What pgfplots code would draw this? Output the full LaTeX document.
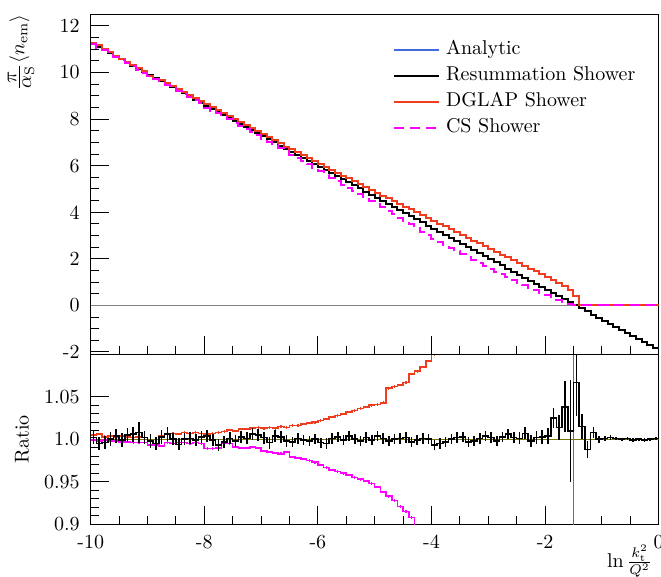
\documentclass[border=0pt]{standalone}
\usepackage{pgfplots}
\usepackage{pgfplotstable}
\pgfplotsset{compat=1.18}

\definecolor{anablue}{RGB}{65,105,225}
\definecolor{dgred}{RGB}{240,60,30}
\definecolor{csmag}{RGB}{255,0,255}
\definecolor{oneline}{RGB}{120,120,0}

% bins of width 0.1 from -10 to 0, xl = left edge, last row closes the histogram
% ana: analytic (= resummation shower at this scale), dg: DGLAP, cs: CS
% rres/eres: resummation/analytic with error, rdg, rcs: ratios to analytic
\pgfplotstableread{
xl ana dg cs rres eres rdg rcs
-10.0 11.22 11.28 11.21 1.002 0.008 1.005 0.999
-9.9 11.09 11.16 11.07 0.995 0.008 1.006 0.998
-9.8 10.96 10.99 10.95 0.996 0.008 1.003 0.999
-9.7 10.82 10.86 10.80 1.000 0.008 1.004 0.998
-9.6 10.69 10.72 10.67 1.004 0.008 1.003 0.998
-9.5 10.56 10.60 10.53 0.999 0.008 1.004 0.997
-9.4 10.43 10.46 10.40 1.005 0.008 1.003 0.997
-9.3 10.30 10.32 10.26 1.006 0.009 1.002 0.996
-9.2 10.16 10.19 10.12 1.008 0.012 1.003 0.996
-9.1 10.03 10.05 9.99 1.002 0.008 1.002 0.996
-9.0 9.90 9.84 9.83 0.998 0.008 0.994 0.993
-8.9 9.77 9.70 9.70 0.995 0.008 0.993 0.993
-8.8 9.64 9.68 9.56 1.003 0.008 1.004 0.992
-8.7 9.50 9.56 9.46 1.006 0.008 1.006 0.996
-8.6 9.37 9.44 9.32 1.000 0.007 1.007 0.995
-8.5 9.24 9.30 9.20 0.994 0.007 1.006 0.996
-8.4 9.11 9.18 9.07 1.000 0.007 1.008 0.996
-8.3 8.98 9.04 8.94 1.001 0.007 1.007 0.995
-8.2 8.84 8.91 8.80 0.999 0.007 1.008 0.996
-8.1 8.71 8.77 8.67 1.003 0.007 1.007 0.995
-8.0 8.58 8.63 8.49 1.004 0.007 1.006 0.989
-7.9 8.45 8.51 8.36 0.999 0.007 1.007 0.989
-7.8 8.32 8.39 8.24 0.993 0.007 1.008 0.990
-7.7 8.18 8.25 8.14 0.997 0.007 1.009 0.995
-7.6 8.05 8.14 8.01 1.001 0.007 1.011 0.995
-7.5 7.92 8.00 7.85 0.998 0.007 1.010 0.991
-7.4 7.79 7.88 7.71 1.003 0.007 1.012 0.990
-7.3 7.66 7.75 7.58 1.001 0.007 1.012 0.990
-7.2 7.52 7.62 7.45 1.006 0.007 1.013 0.991
-7.1 7.39 7.49 7.32 1.005 0.007 1.014 0.990
-7.0 7.26 7.35 7.16 1.002 0.007 1.013 0.986
-6.9 7.13 7.23 7.02 0.996 0.007 1.014 0.985
-6.8 7.00 7.09 6.89 1.004 0.007 1.013 0.984
-6.7 6.86 6.96 6.74 1.003 0.007 1.015 0.983
-6.6 6.73 6.82 6.63 0.998 0.007 1.014 0.985
-6.5 6.60 6.71 6.46 0.997 0.006 1.016 0.979
-6.4 6.47 6.57 6.33 1.001 0.006 1.016 0.978
-6.3 6.34 6.45 6.19 0.999 0.006 1.018 0.977
-6.2 6.20 6.32 6.05 0.998 0.006 1.019 0.975
-6.1 6.07 6.19 5.91 1.000 0.006 1.020 0.973
-6.0 5.94 6.07 5.76 0.996 0.006 1.022 0.970
-5.9 5.81 5.95 5.62 0.995 0.006 1.024 0.967
-5.8 5.68 5.83 5.48 1.001 0.006 1.026 0.964
-5.7 5.54 5.70 5.33 1.003 0.006 1.028 0.962
-5.6 5.41 5.57 5.19 0.999 0.006 1.030 0.960
-5.5 5.28 5.45 5.06 1.004 0.006 1.032 0.958
-5.4 5.15 5.33 4.92 1.000 0.006 1.034 0.955
-5.3 5.02 5.20 4.78 0.998 0.006 1.036 0.953
-5.2 4.88 5.07 4.64 1.002 0.006 1.038 0.951
-5.1 4.75 4.94 4.50 0.999 0.006 1.040 0.948
-5.0 4.62 4.81 4.36 1.004 0.006 1.041 0.944
-4.9 4.49 4.68 4.21 1.001 0.006 1.043 0.938
-4.8 4.36 4.62 4.07 0.998 0.006 1.060 0.933
-4.7 4.22 4.48 3.92 1.000 0.006 1.062 0.928
-4.6 4.09 4.35 3.77 1.001 0.006 1.064 0.921
-4.5 3.96 4.23 3.62 1.002 0.006 1.067 0.915
-4.4 3.83 4.12 3.48 0.997 0.006 1.077 0.908
-4.3 3.70 4.00 3.32 0.999 0.006 1.080 0.898
-4.2 3.56 3.86 3.16 1.001 0.006 1.085 0.889
-4.1 3.43 3.75 3.02 1.000 0.006 1.092 0.879
-4.0 3.30 3.63 2.86 0.993 0.006 1.100 0.868
-3.9 3.17 3.51 2.73 0.995 0.006 1.107 0.860
-3.8 3.04 3.39 2.59 0.997 0.006 1.115 0.852
-3.7 2.90 3.27 2.45 1.000 0.006 1.128 0.845
-3.6 2.77 3.15 2.32 1.002 0.006 1.137 0.838
-3.5 2.64 3.03 2.19 1.003 0.006 1.148 0.830
-3.4 2.51 2.90 2.07 0.997 0.006 1.155 0.823
-3.3 2.38 2.78 1.94 0.998 0.006 1.168 0.815
-3.2 2.24 2.66 1.81 1.001 0.006 1.190 0.808
-3.1 2.11 2.54 1.69 1.004 0.006 1.200 0.800
-3.0 1.98 2.42 1.57 1.002 0.006 1.220 0.795
-2.9 1.85 2.30 1.45 0.998 0.006 1.240 0.785
-2.8 1.72 2.18 1.33 1.003 0.006 1.270 0.775
-2.7 1.58 2.06 1.21 1.006 0.006 1.300 0.765
-2.6 1.45 1.94 1.09 1.002 0.006 1.340 0.755
-2.5 1.32 1.82 0.98 1.001 0.007 1.380 0.745
-2.4 1.19 1.70 0.87 1.007 0.007 1.430 0.735
-2.3 1.06 1.58 0.76 0.998 0.007 1.490 0.720
-2.2 0.92 1.46 0.64 1.002 0.008 1.590 0.700
-2.1 0.79 1.34 0.54 1.003 0.008 1.700 0.680
-2.0 0.66 1.22 0.44 1.004 0.009 1.850 0.660
-1.9 0.53 1.10 0.34 1.025 0.012 2.080 0.640
-1.8 0.40 0.97 0.25 1.014 0.015 2.430 0.620
-1.7 0.26 0.82 0.16 1.038 0.030 3.150 0.610
-1.6 0.13 0.64 0.08 1.010 0.060 4.900 0.620
-1.5 0.00 0.40 0.00 1.067 0.040 0.000 0.000
-1.4 -0.13 0.00 0.00 1.015 0.015 0.000 0.000
-1.3 -0.26 0.00 0.00 0.988 0.010 0.000 0.000
-1.2 -0.40 0.00 0.00 1.008 0.006 0.000 0.000
-1.1 -0.53 0.00 0.00 1.000 0.004 0.000 0.000
-1.0 -0.66 0.00 0.00 1.001 0.003 0.000 0.000
-0.9 -0.79 0.00 0.00 1.002 0.003 0.000 0.000
-0.8 -0.92 0.00 0.00 1.001 0.002 0.000 0.000
-0.7 -1.06 0.00 0.00 1.000 0.002 0.000 0.000
-0.6 -1.19 0.00 0.00 1.001 0.002 0.000 0.000
-0.5 -1.32 0.00 0.00 0.999 0.002 0.000 0.000
-0.4 -1.45 0.00 0.00 1.000 0.002 0.000 0.000
-0.3 -1.58 0.00 0.00 0.999 0.002 0.000 0.000
-0.2 -1.72 0.00 0.00 1.000 0.002 0.000 0.000
-0.1 -1.85 0.00 0.00 1.001 0.002 0.000 0.000
0.0 -1.85 0.00 0.00 1.001 0.000 0.000 0.000
}\data

\pgfplotsset{
  rootstyle/.style={
    scale only axis, width=284pt,
    xmin=-10, xmax=0,
    tick align=inside, xtick pos=left, ytick pos=left,
    major tick length=9pt, minor tick length=4.3pt,
    every tick/.style={black, line width=0.5pt},
    axis line style={line width=0.7pt},
    xtick={-10,-8,-6,-4,-2,0},
    minor x tick num=3,
    xticklabel style={yshift=-2pt},
    yticklabel style={xshift=-2pt},
    clip=true,
  },
}

\begin{document}
\begin{tikzpicture}

% ratio panel
\begin{axis}[rootstyle, name=bot, at={(0,0)}, anchor=south west,
  height=85pt, ymin=0.9, ymax=1.1,
  xticklabels={-10,-8,-6,-4,-2,0},
  ytick={0.9,0.95,1.0,1.05}, yticklabels={0.9,0.95,1.0,1.05},
  minor y tick num=4,
  ylabel={Ratio},
  ylabel style={at={(axis description cs:-0.096,0.5)}, anchor=south},
  xlabel={$\ln\frac{k_{\mathrm{t}}^{2}}{Q^{2}}$},
  xlabel style={at={(axis description cs:1.001,0)}, anchor=base east, yshift=-21.6pt},
]
\addplot[oneline, line width=0.6pt, forget plot] coordinates {(-10,1) (0,1)};
\addplot[dgred, line width=0.8pt, const plot] table[x=xl, y=rdg] {\data};
\addplot[draw=none, mark=none, forget plot, error bars/.cd, y dir=both, y fixed=0.0015,
  error mark=none, error bar style={draw=dgred, line width=0.6pt}]
  table[x expr=\thisrow{xl}+0.05, y=rdg] {\data};
\addplot[csmag, line width=0.8pt, const plot] table[x=xl, y=rcs] {\data};
\addplot[draw=none, mark=none, forget plot, error bars/.cd, y dir=both, y fixed=0.0015,
  error mark=none, error bar style={draw=csmag, line width=0.6pt}]
  table[x expr=\thisrow{xl}+0.05, y=rcs] {\data};
\addplot[black, line width=0.8pt, const plot] table[x=xl, y=rres] {\data};
\addplot[draw=none, mark=none, forget plot, error bars/.cd, y dir=both, y explicit,
  error mark=none, error bar style={draw=black, line width=0.8pt}]
  table[x expr=\thisrow{xl}+0.05, y=rres, y error=eres] {\data};
\end{axis}

% main panel
\begin{axis}[rootstyle, name=top, at={(0,85pt)}, anchor=south west,
  height=170pt, ymin=-2.1, ymax=12.5,
  xticklabels={},
  ytick={-2,0,2,4,6,8,10,12}, yticklabels={-2,0,2,4,6,8,10,12},
  minor y tick num=3,
  ylabel={$\frac{\textstyle\pi}{\textstyle\alpha_{\mathrm{S}}}\langle n_{\mathrm{em}}\rangle$},
  ylabel style={at={(axis description cs:-0.087,1.02)}, anchor=south east},
  legend cell align=left,
  legend image code/.code={\draw[#1] (0pt,0pt) -- (22.5pt,0pt);},
  legend style={at={(axis description cs:0.521,0.943)}, anchor=north west,
    draw=none, fill=none, inner xsep=3pt, inner ysep=2pt, row sep=1pt,
    nodes={inner xsep=3pt, inner ysep=1.5pt, text height=6.94pt, text depth=2pt}},
]
\addplot[gray, line width=0.7pt, forget plot] coordinates {(-10,0) (0,0)};
\addplot[anablue, line width=1pt, const plot] table[x=xl, y=ana] {\data};
\addlegendentry{Analytic}
\addplot[black, line width=1pt, const plot] table[x=xl, y=ana] {\data};
\addlegendentry{Resummation Shower}
\addplot[dgred, line width=1pt, const plot] table[x=xl, y=dg] {\data};
\addlegendentry{DGLAP Shower}
\addplot[csmag, line width=1pt, const plot, dash pattern=on 5pt off 3pt] table[x=xl, y=cs] {\data};
\addlegendentry{CS Shower}
\end{axis}

\pgfresetboundingbox
\useasboundingbox (-45.35pt,-26.35pt) rectangle (285.15pt,262.15pt);
\end{tikzpicture}
\end{document}
